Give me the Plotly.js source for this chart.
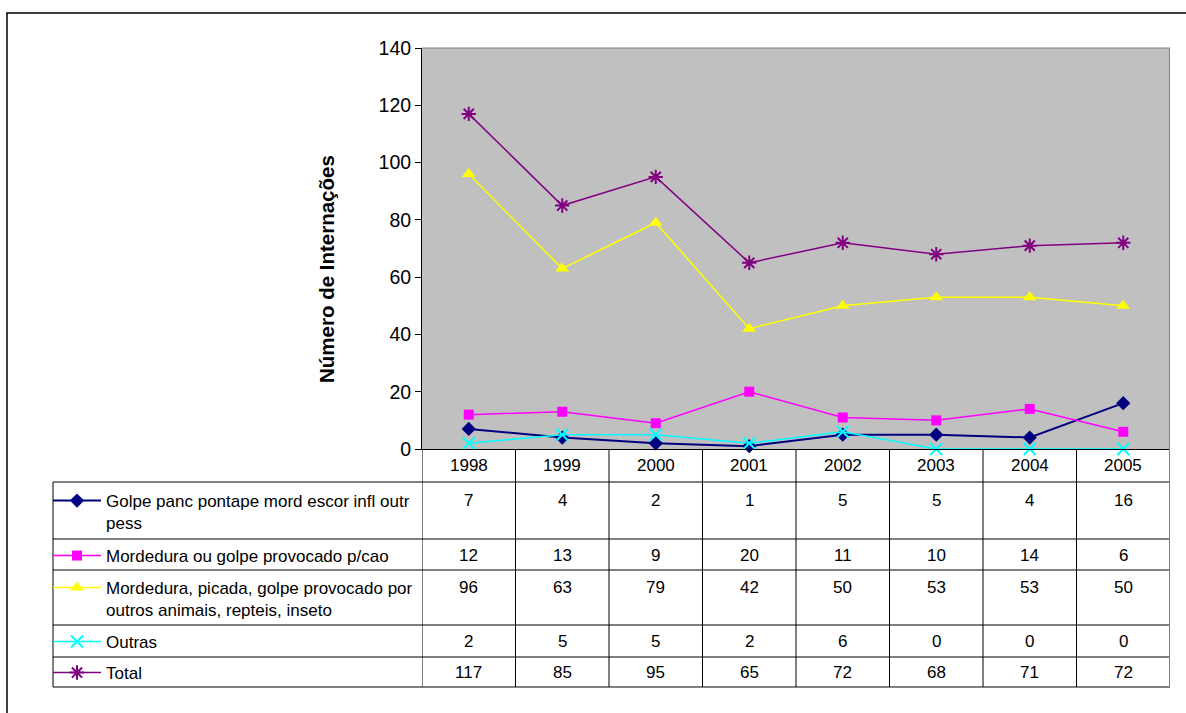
<!DOCTYPE html>
<html>
<head>
<meta charset="utf-8">
<script src="https://cdn.plot.ly/plotly-3.0.1.min.js"></script>
<style>html,body{margin:0;padding:0;background:#fff;}#chart{width:1186px;height:713px;}</style>
</head>
<body>
<div id="chart"></div>
<script>
// ---- data ----
var years = ['1998','1999','2000','2001','2002','2003','2004','2005'];
var golpe = [7, 4, 2, 1, 5, 5, 4, 16];
var cao = [12, 13, 9, 20, 11, 10, 14, 6];
var mordedura = [96, 63, 79, 42, 50, 53, 53, 50];
var outras = [2, 5, 5, 2, 6, 0, 0, 0];
var total = [117, 85, 95, 65, 72, 68, 71, 72];
var seriesNames = [
  'Golpe panc pontape mord escor infl outr<br>pess',
  'Mordedura ou golpe provocado p/cao',
  'Mordedura, picada, golpe provocado por<br>outros animais, repteis, inseto',
  'Outras',
  'Total'
];
var yTitle = 'Número de Internações';

// ---- geometry helpers (pixel -> paper) ----
var W = 1186, H = 713, L = 422, R = 1170, T = 48, B = 449;
function px(X){ return (X - L) / (R - L); }
function py(Y){ return (B - Y) / (B - T); }

var FONT = 'Liberation Sans, Arial, sans-serif';
var seriesData = [golpe, cao, mordedura, outras, total];
var styles = [
  {color:'#000080', symbol:'diamond', size:11, lw:2},
  {color:'#FF00FF', symbol:'square', size:10, lw:1.5},
  {color:'#FFFF00', symbol:'triangle-up', size:12, lw:1.5},
  {color:'#00FFFF', symbol:'x-thin-open', size:12, lw:1.5},
  {color:'#800080', symbol:'asterisk-open', size:12, lw:1.5}
];
var legendIds = ['legend','legend2','legend3','legend4','legend5'];
var rowBottoms = [539, 570, 625, 657, 687];
var rowTextY = [500, 555, 587, 641, 672];

var traces = seriesData.map(function(vals, i){
  var s = styles[i];
  return {
    x: years, y: vals, name: seriesNames[i], type:'scatter', mode:'lines+markers',
    line:{color:s.color, width:s.lw},
    marker:{color:s.color, symbol:s.symbol, size:s.size, line:{color:s.color, width: (s.symbol.indexOf('open')>=0?2:0)}},
    cliponaxis:false, showlegend:true, legend: legendIds[i]
  };
});

var shapes = [];
function hline(Y, X0, X1, color){
  shapes.push({type:'line', xref:'paper', yref:'paper', x0:px(X0), x1:px(X1), y0:py(Y), y1:py(Y), line:{color:color||'#000', width:1}});
}
hline(T, L, R, '#808080');
hline(482, 53, R);
rowBottoms.forEach(function(Y){ hline(Y, 53, R); });
for (var i = 0; i <= years.length; i++){
  var isRight = (i === years.length);
  shapes.push({type:'line', xref:'x', yref:'paper', x0:i-0.5, x1:i-0.5,
    y0: py(isRight ? T : B), y1: py(687), line:{color: isRight ? '#808080' : '#000', width: isRight?2:1}});
}
shapes.push({type:'line', xref:'paper', yref:'paper', x0:px(53), x1:px(53), y0:py(482), y1:py(687), line:{color:'#000', width:1}});
shapes.push({type:'rect', xref:'paper', yref:'paper', x0:px(7), x1:px(1200), y0:py(13), y1:py(730), line:{color:'#000', width:1.5}});

var annotations = [];
years.forEach(function(yr, j){
  annotations.push({x:j, xref:'x', y:py(465.5), yref:'paper', text:yr, showarrow:false,
    font:{family:FONT, size:17, color:'#000'}, xanchor:'center', yanchor:'middle'});
});
seriesData.forEach(function(vals, i){
  vals.forEach(function(v, j){
    annotations.push({x:j, xref:'x', y:py(rowTextY[i]), yref:'paper', text:String(v), showarrow:false,
      font:{family:FONT, size:17, color:'#000'}, xanchor:'center', yanchor:'middle'});
  });
});
annotations.push({x:px(326), xref:'paper', y:py(269), yref:'paper', text:'<b>'+yTitle+'</b>', textangle:-90,
  showarrow:false, font:{family:FONT, size:20.5, color:'#000'}, xanchor:'center', yanchor:'middle'});

var layout = {
  width:W, height:H,
  margin:{l:L, r:W-R, t:T, b:H-B, pad:0},
  paper_bgcolor:'#FFFFFF', plot_bgcolor:'#C0C0C0',
  font:{family:FONT, size:17, color:'#000'},
  xaxis:{type:'category', range:[-0.5, 7.5], showticklabels:false, ticks:'', showgrid:false, zeroline:false,
    showline:true, linecolor:'#000', linewidth:1, fixedrange:true},
  yaxis:{range:[0,140], dtick:20, ticks:'outside', ticklen:6, tickcolor:'#000', tickwidth:1,
    showline:true, linecolor:'#000', linewidth:1, showgrid:false, zeroline:false,
    tickfont:{family:FONT, size:19.5, color:'#000'}, fixedrange:true},
  shapes:shapes, annotations:annotations
};
legendIds.forEach(function(id, i){
  layout[id] = {x:px(48), xanchor:'left', y:py(rowTextY[i]-17), yanchor:'top', bgcolor:'rgba(0,0,0,0)',
    borderwidth:0, valign:'top', itemwidth:48, font:{family:FONT, size:17, color:'#000'},
    itemclick:false, itemdoubleclick:false};
});

Plotly.newPlot('chart', traces, layout, {displayModeBar:false, staticPlot:true});
</script>
</body>
</html>
